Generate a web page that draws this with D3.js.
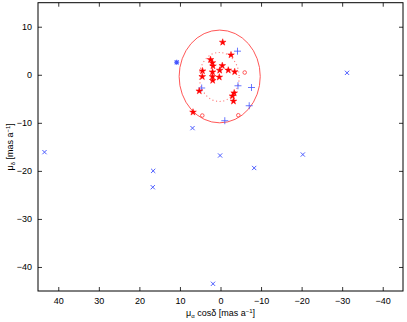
<!DOCTYPE html>
<html>
<head>
<meta charset="utf-8">
<script src="https://cdn.jsdelivr.net/npm/d3@7"></script>
<style>
  body { margin: 0; background: #fff; }
  text { font-family: "Liberation Sans", Arial, sans-serif; fill: #000; }
</style>
</head>
<body>
<svg id="chart"></svg>
<script>
// proper motion diagram

// red stars (members)
const starX = [-0.54, -2.59, 2.47, 2.0, 1.85, -0.44, 4.44, 1.97, 0.2, -1.92, -3.5, 4.49, 1.97, 0.3, 1.92, 5.23, -3.38, -2.96, -3.2, 6.78];
const starY = [6.76, 4.12, 3.14, 2.5, 1.83, 1.89, 0.79, 0.58, 0.93, 0.95, 0.62, -0.4, -0.4, -0.5, -1.19, -3.38, -3.79, -4.42, -5.5, -7.79];

// red open circles
const circX = [4.49, -4.39, -5.97];
const circY = [-8.48, -8.43, 0.47];

// blue plus
const plusX = [-4.19, 4.64, -4.31, -7.64, -7.08, -1.06];
const plusY = [4.91, -2.75, -2.29, -2.65, -6.44, -9.56];

// blue crosses
const crossX = [43.4, 16.6, 16.7, 6.9, 0.1, -20.3, -8.3, 1.85, -31.2];
const crossY = [-16.1, -20.0, -23.4, -11.1, -16.8, -16.6, -19.4, -43.5, 0.4];

// blue asterisk
const astX = [10.8];
const astY = [2.6];

// selection ellipses: center, radii
const ellCx = [0.2, 0.3];
const ellCy = [-0.35, -0.45];
const ellRx = [10.0, 4.9];
const ellRy = [9.65, 5.1];

const xTicks = [40, 30, 20, 10, 0, -10, -20, -30, -40];
const yTicks = [10, 0, -10, -20, -30, -40];

const W = 407, H = 322;
const margin = { top: 2.7, right: 4, bottom: 31, left: 38 };
const width = W - margin.left - margin.right;
const height = H - margin.top - margin.bottom;

const svg = d3.select("#chart").attr("width", W).attr("height", H);
const g = svg.append("g").attr("transform", `translate(${margin.left},${margin.top})`);

const x = d3.scaleLinear().domain([45, -45]).range([0, width]);
const y = d3.scaleLinear().domain([-45, 15]).range([height, 0]);

const fmt = d => d < 0 ? "\u2212" + Math.abs(d) : String(d);

// axes (ticks pointing in, box on)
g.append("g")
    .attr("transform", `translate(0,${height})`)
    .call(d3.axisBottom(x).tickValues(xTicks).tickSize(-4).tickPadding(7).tickFormat(fmt))
    .call(a => a.select(".domain").remove());
g.append("g")
    .call(d3.axisTop(x).tickValues(xTicks).tickSize(-4).tickFormat(""))
    .call(a => a.select(".domain").remove());
g.append("g")
    .call(d3.axisLeft(y).tickValues(yTicks).tickSize(-4).tickPadding(6).tickFormat(fmt))
    .call(a => a.select(".domain").remove());
g.append("g")
    .attr("transform", `translate(${width},0)`)
    .call(d3.axisRight(y).tickValues(yTicks).tickSize(-4).tickFormat(""))
    .call(a => a.select(".domain").remove());

g.selectAll(".tick text").attr("font-size", 9).style("font-family", "Liberation Sans, Arial, sans-serif");
g.selectAll(".tick line").attr("stroke", "#000").attr("stroke-width", 0.8);

g.append("rect")
    .attr("width", width).attr("height", height)
    .attr("fill", "none").attr("stroke", "#000").attr("stroke-width", 1);

// ellipses
g.append("ellipse")
    .attr("cx", x(ellCx[0])).attr("cy", y(ellCy[0]))
    .attr("rx", Math.abs(x(ellRx[0]) - x(0))).attr("ry", Math.abs(y(ellRy[0]) - y(0)))
    .attr("fill", "none").attr("stroke", "#f44").attr("stroke-width", 0.9);
g.append("ellipse")
    .attr("cx", x(ellCx[1])).attr("cy", y(ellCy[1]))
    .attr("rx", Math.abs(x(ellRx[1]) - x(0))).attr("ry", Math.abs(y(ellRy[1]) - y(0)))
    .attr("fill", "none").attr("stroke", "#f77").attr("stroke-width", 1.1)
    .attr("stroke-dasharray", "1.1,2.6");

const blue = "#4455ff";

// crosses
g.selectAll(".cross").data(crossX.map((v, i) => [v, crossY[i]])).enter()
    .append("path")
    .attr("transform", d => `translate(${x(d[0])},${y(d[1])}) rotate(45)`)
    .attr("d", "M-3,0H3M0,-3V3")
    .attr("stroke", blue).attr("stroke-width", 0.9).attr("fill", "none");

// asterisk
g.selectAll(".ast").data(astX.map((v, i) => [v, astY[i]])).enter()
    .append("path")
    .attr("transform", d => `translate(${x(d[0])},${y(d[1])})`)
    .attr("d", "M-2.5,0H2.5M0,-2.5V2.5M-2,-2L2,2M-2,2L2,-2")
    .attr("stroke", blue).attr("stroke-width", 1.1).attr("fill", "none");

// plus
g.selectAll(".plus").data(plusX.map((v, i) => [v, plusY[i]])).enter()
    .append("path")
    .attr("transform", d => `translate(${x(d[0])},${y(d[1])})`)
    .attr("d", "M-3.5,0H3.5M0,-3.5V3.5")
    .attr("stroke", blue).attr("stroke-width", 0.8).attr("fill", "none");

// red circles
g.selectAll(".circ").data(circX.map((v, i) => [v, circY[i]])).enter()
    .append("circle")
    .attr("cx", d => x(d[0])).attr("cy", d => y(d[1])).attr("r", 1.8)
    .attr("fill", "none").attr("stroke", "#f33").attr("stroke-width", 0.8);

// red stars
const star = d3.symbol().type(d3.symbolStar).size(14);
g.selectAll(".star").data(starX.map((v, i) => [v, starY[i]])).enter()
    .append("path")
    .attr("transform", d => `translate(${x(d[0])},${y(d[1])})`)
    .attr("d", star)
    .attr("fill", "red").attr("stroke", "red").attr("stroke-width", 0.5);

// axis labels
const xl = svg.append("text")
    .attr("x", margin.left + width / 2).attr("y", 316)
    .attr("text-anchor", "middle").attr("font-size", 9);
xl.append("tspan").text("\u03bc");
xl.append("tspan").attr("font-size", 6).attr("dy", 2).text("\u03b1");
xl.append("tspan").attr("dy", -2).text(" cos\u03b4 [mas a");
xl.append("tspan").attr("font-size", 6).attr("dy", -3.5).text("\u22121");
xl.append("tspan").attr("dy", 3.5).text("]");

const yl = svg.append("text")
    .attr("transform", `translate(13,${margin.top + height / 2}) rotate(-90)`)
    .attr("text-anchor", "middle").attr("font-size", 9);
yl.append("tspan").text("\u03bc");
yl.append("tspan").attr("font-size", 6).attr("dy", 2).text("\u03b4");
yl.append("tspan").attr("dy", -2).text(" [mas a");
yl.append("tspan").attr("font-size", 6).attr("dy", -3.5).text("\u22121");
yl.append("tspan").attr("dy", 3.5).text("]");
</script>
</body>
</html>
